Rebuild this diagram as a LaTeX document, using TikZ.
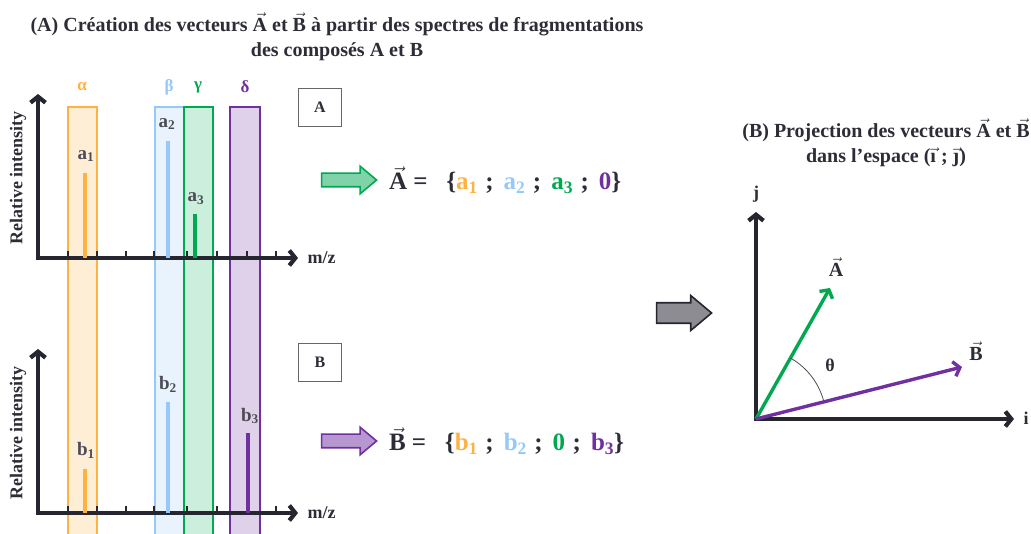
\documentclass[tikz,border=0pt]{standalone}
\usepackage{fontspec}
\setmainfont{Liberation Serif}
\usetikzlibrary{positioning,arrows.meta,shapes.arrows}
\definecolor{axisDark}{RGB}{38,38,48}
\definecolor{textDark}{RGB}{45,45,55}
\definecolor{alphaOrange}{RGB}{255,178,68}
\definecolor{betaBlue}{RGB}{150,200,250}
\definecolor{gammaGreen}{RGB}{0,168,80}
\definecolor{deltaPurple}{RGB}{112,48,160}
\definecolor{arrowGray}{RGB}{140,140,146}
\newcommand{\VecA}{$\vec{\textbf{A}}$}
\newcommand{\VecB}{$\vec{\textbf{B}}$}
\newcommand{\VecI}{$\vec{\textbf{\i}}$}
\newcommand{\VecJ}{$\vec{\textbf{\j}}$}
\newcommand{\SetSep}{\hspace{0.3em};\hspace{0.4em}}

\begin{document}
\begin{tikzpicture}[
    x=1pt, y=-1pt,
    axis/.style={draw=axisDark, line width=4.2pt,
        {Straight Barb[length=6pt,width=15pt]}-{Straight Barb[length=6pt,width=15pt]}},
    tick/.style={draw=axisDark, line width=2.2pt},
    band/.style={line width=1.5pt},
    peak/.style={line width=3.2pt},
    vect/.style={line width=3.4pt, -{Straight Barb[length=6pt,width=15pt]}},
    titletext/.style={text=textDark, font=\bfseries\fontsize{20}{25}\selectfont, align=center},
    axistext/.style={text=textDark, font=\bfseries\fontsize{18}{20}\selectfont},
    greek/.style={font=\bfseries\fontsize{17}{20}\selectfont},
    peaklabel/.style={text=textDark!85, font=\bfseries\fontsize{19}{22}\selectfont},
    boxlabel/.style={draw=black!60, line width=0.9pt, fill=white,
        minimum width=43pt, minimum height=38pt, inner sep=0pt,
        text=textDark, font=\bfseries\fontsize{16}{18}\selectfont},
    formula/.style={anchor=west, inner sep=0pt, text=textDark, font=\bfseries\fontsize{25}{27}\selectfont},
    fatarrow/.style={single arrow, single arrow tip angle=80, single arrow head extend=7pt,
        line width=1.6pt, inner sep=6pt, minimum height=55pt, minimum width=26pt}
]
\useasboundingbox (0,0) rectangle (1031,534);

% titles
\node[titletext] (titleA) at (337,37)
    {(A) Création des vecteurs \VecA{} et \VecB{} à partir des spectres de fragmentations\\
     des composés A et B};
\node[titletext] (titleB) at (886,143)
    {(B) Projection des vecteurs \VecA{} et \VecB\\ dans l’espace (\VecI{} ; \VecJ)};

% fragment bands
\fill[alphaOrange!22] (68,107) rectangle (97,534);
\fill[betaBlue!22] (155,107) rectangle (184,534);
\fill[gammaGreen!20] (184,107) rectangle (213,534);
\fill[deltaPurple!22] (230,107) rectangle (260,534);
\draw[band, alphaOrange] (68,534) -- (68,107) -- (97,107) -- (97,534);
\draw[band, betaBlue] (155,534) -- (155,107) -- (184,107);
\draw[band, gammaGreen] (184,534) -- (184,107) -- (213,107) -- (213,534);
\draw[band, deltaPurple] (230,534) -- (230,107) -- (260,107) -- (260,534);
\node[greek, text=alphaOrange] (lalpha) at (82,87) {α};
\node[greek, text=betaBlue] (lbeta) at (169,87) {β};
\node[greek, text=gammaGreen] (lgamma) at (198,87) {γ};
\node[greek, text=deltaPurple] (ldelta) at (245,87) {δ};

% spectrum A
\coordinate (oA) at (38,258);
\coordinate (yA) at (38,94);
\coordinate (xA) at (298,258);
\draw[axis] (yA) -- (oA) -- (xA);
\foreach \t in {68,97,126,154,187,217,247,276}
    \draw[tick] (\t,258) -- (\t,251);
\node[axistext, rotate=90] (intA) at (18,178) {Relative intensity};
\node[axistext, right=6pt of xA] (mzA) {m/z};
\draw[peak, alphaOrange] (85,258) -- (85,173);
\draw[peak, betaBlue] (168,258) -- (168,141);
\draw[peak, gammaGreen] (195,258) -- (195,214);
\node[peaklabel] (la1) at (86,156) {a\textsubscript{1}};
\node[peaklabel] (la2) at (167,124) {a\textsubscript{2}};
\node[peaklabel] (la3) at (196,199) {a\textsubscript{3}};
\node[boxlabel] (boxA) at (320,107) {A};

% spectrum B
\coordinate (oB) at (38,513);
\coordinate (yB) at (38,349);
\coordinate (xB) at (298,513);
\draw[axis] (yB) -- (oB) -- (xB);
\foreach \t in {68,97,126,154,187,217,247,276}
    \draw[tick] (\t,513) -- (\t,506);
\node[axistext, rotate=90] (intB) at (18,433) {Relative intensity};
\node[axistext, right=6pt of xB] (mzB) {m/z};
\draw[peak, alphaOrange] (85,513) -- (85,469);
\draw[peak, betaBlue] (168,513) -- (168,402);
\draw[peak, deltaPurple] (248,513) -- (248,433);
\node[peaklabel] (lb1) at (86,450) {b\textsubscript{1}};
\node[peaklabel] (lb2) at (168,384) {b\textsubscript{2}};
\node[peaklabel] (lb3) at (250,416) {b\textsubscript{3}};
\node[boxlabel] (boxB) at (320,362) {B};

% vectors as sets
\node[fatarrow, draw=gammaGreen, fill=gammaGreen!50] (arrA) at (345,180) {};
\node[formula, right=11pt of arrA] (setA)
    {\VecA{} =\hspace{0.75em}\{\textcolor{alphaOrange}{a\textsubscript{1}}\SetSep
     \textcolor{betaBlue}{a\textsubscript{2}}\SetSep\textcolor{gammaGreen}{a\textsubscript{3}}\SetSep
     \textcolor{deltaPurple}{0}\}};
\node[fatarrow, draw=deltaPurple, fill=deltaPurple!50] (arrB) at (345,441) {};
\node[formula, right=11pt of arrB] (setB)
    {\VecB{} =\hspace{0.75em}\{\textcolor{alphaOrange}{b\textsubscript{1}}\SetSep
     \textcolor{betaBlue}{b\textsubscript{2}}\SetSep\textcolor{gammaGreen}{0}\SetSep
     \textcolor{deltaPurple}{b\textsubscript{3}}\}};

% projection
\node[fatarrow, draw=axisDark, fill=arrowGray, inner sep=9pt, minimum width=35pt] (arrProj) at (678,313) {};
\coordinate (orig) at (756,419);
\coordinate (jEnd) at (756,212);
\coordinate (iEnd) at (1014,419);
\coordinate (vecAEnd) at (830,288);
\coordinate (vecBEnd) at (962,367);
\draw[axis] (jEnd) -- (orig) -- (iEnd);
\draw[vect, gammaGreen] (orig) -- (vecAEnd);
\draw[vect, deltaPurple] (orig) -- (vecBEnd);
\draw[black!70, line width=0.8pt] (orig) ++(-60.5:70) arc[start angle=-60.5, end angle=-14.2, radius=70];
\node[axistext] (lj) at (756,194) {j};
\node[axistext] (li) at (1026,418) {i};
\node[axistext, font=\bfseries\fontsize{20}{22}\selectfont] (lvecA) at (836,267) {\VecA};
\node[axistext, font=\bfseries\fontsize{20}{22}\selectfont] (lvecB) at (976,351) {\VecB};
\node[axistext] (ltheta) at (830,365) {θ};
\end{tikzpicture}
\end{document}
